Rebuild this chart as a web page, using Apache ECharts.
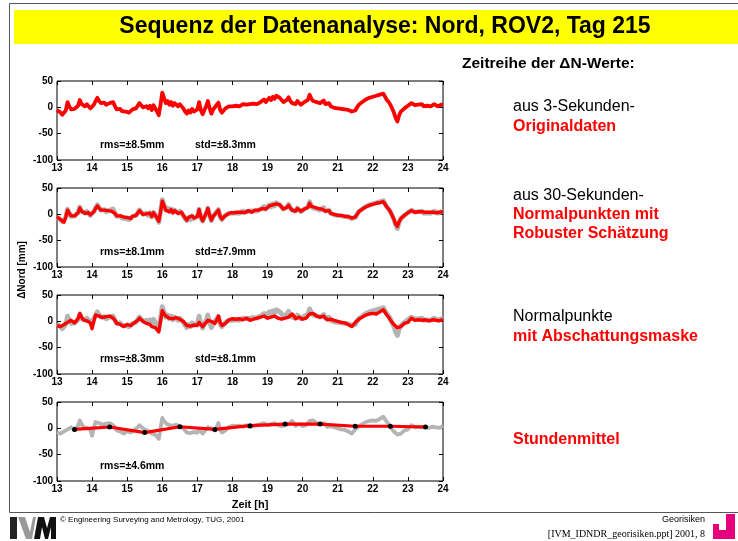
<!DOCTYPE html>
<html><head><meta charset="utf-8">
<script src="https://cdn.jsdelivr.net/npm/echarts@6/dist/echarts.min.js"></script>
<style>html,body{margin:0;padding:0;background:#fff}#c{width:738px;height:541px}</style>
</head><body><div id="c"></div>
<script>
// ---- DATA ----
const xTicks = [13,14,15,16,17,18,19,20,21,22,23,24];
const yTicks = [-100,-50,0,50];
// 3-second original data, sampled every 0.05 h (one array per hour)
const orig13 = [-5,-8,-10,-14,-17,-6,10,2,-4,-2,-3,0,3,14,6,8,2,6,3,-2];
const orig14 = [-3,5,12,18,12,8,6,9,5,7,8,6,10,2,-4,-5,-3,-7,-5,-8];
const orig15 = [-6,-10,-8,-4,-7,-2,0,8,4,0,-3,2,-2,3,-5,4,2,-8,-15,5];
const orig16 = [28,18,8,12,5,10,3,8,5,2,6,4,-2,-8,-12,-6,-10,-3,-8,-5];
const orig17 = [-4,10,-6,-13,-5,2,12,-2,-12,-4,0,5,9,-5,-10,-6,-2,0,2,3];
const orig18 = [2,4,3,5,2,4,6,3,5,8,6,4,7,9,6,8,10,12,15,10];
const orig19 = [12,18,14,20,16,22,25,18,20,10,8,14,19,12,8,10,6,12,15,5];
const orig20 = [8,10,12,14,24,16,12,14,10,12,8,10,13,6,5,8,2,3,-1,2];
const orig21 = [-2,0,-3,-1,-4,-2,-5,-3,-8,-10,-6,0,5,8,10,12,15,13,18,16];
const orig22 = [20,18,22,20,24,21,26,27,14,10,5,-2,-10,-20,-27,-15,-8,-5,-2,0];
const orig23 = [3,5,8,10,4,2,5,3,6,2,4,3,5,2,4,6,3,2,4,5];
const orig24 = [5];
// 30-second normal points, robust estimation, every 0.05 h
const rob13 = [-5,-8,-10,-13,-15,-5,8,2,-3,-2,-3,0,3,12,6,7,2,5,3,-1];
const rob14 = [-2,5,11,16,12,8,6,8,5,7,8,6,9,2,-3,-5,-3,-6,-5,-7];
const rob15 = [-6,-9,-8,-4,-6,-2,0,7,4,0,-3,1,-2,2,-4,3,1,-7,-13,4];
const rob16 = [25,17,8,11,5,9,3,7,5,2,5,4,-2,-7,-11,-6,-9,-3,-7,-5];
const rob17 = [-4,9,-5,-12,-5,2,11,-2,-11,-4,0,4,8,-4,-9,-5,-2,0,2,3];
const rob18 = [2,3,3,4,2,4,5,3,5,7,6,4,6,8,6,8,9,11,14,10];
const rob19 = [11,16,14,18,16,20,22,18,18,10,8,13,17,12,8,10,6,11,14,6];
const rob20 = [8,10,11,13,21,15,12,13,10,11,8,10,12,6,5,7,2,3,0,2];
const rob21 = [-2,0,-2,-1,-4,-2,-4,-3,-7,-9,-5,0,5,8,10,12,14,13,17,16];
const rob22 = [19,18,21,20,22,21,24,24,14,10,5,-2,-9,-18,-23,-14,-8,-5,-2,0];
const rob23 = [3,5,7,9,4,3,5,3,5,3,4,3,4,3,4,5,3,3,4,5];
const rob24 = [5];
// normal points with shadowing mask, every 0.05 h
const mask13 = [-8,-9,-10,-8,-6,-3,-2,0,2,1,-3,0,5,15,8,3,2,1,0,-3];
const mask14 = [-14,0,12,14,10,8,7,9,9,10,10,8,6,2,-4,-6,-6,-8,-10,-8];
const mask15 = [-6,-8,-8,-5,-3,0,2,6,4,0,-2,-4,-5,-6,-10,-8,-12,-14,-20,0];
const mask16 = [20,14,10,8,6,6,5,7,7,5,4,4,0,-4,-8,-8,-9,-6,-7,-6];
const mask17 = [-8,-2,-4,-10,-10,-2,2,0,0,-3,-4,2,10,-2,-8,-6,-4,-2,3,4];
const mask18 = [5,4,4,5,5,3,3,4,6,5,2,3,4,5,6,7,8,9,10,8];
const mask19 = [6,7,8,9,10,8,6,5,4,5,6,7,8,10,14,10,5,6,8,7];
const mask20 = [4,5,6,8,14,15,15,13,10,9,8,9,10,8,3,4,4,3,2,2];
const mask21 = [0,-1,-2,-2,-3,-4,-6,-7,-10,-9,-2,0,4,6,8,10,12,13,14,14];
const mask22 = [15,14,14,15,18,19,22,22,12,8,2,-2,-6,-9,-12,-11,-10,-7,-4,-3];
const mask23 = [-2,2,6,5,2,2,3,3,2,3,3,2,1,2,3,3,2,2,1,2];
const mask24 = [4];
// hourly means
const hourTimes = [13.5,14.5,15.5,16.5,17.5,18.5,19.5,20.5,21.5,22.5,23.5];
const hourMeans = [-2,2.5,-8,3,-2,5,8,8,4,4,2.5];
const statLabels = [["rms=\u00b18.5mm","std=\u00b18.3mm"],["rms=\u00b18.1mm","std=\u00b17.9mm"],["rms=\u00b18.3mm","std=\u00b18.1mm"],["rms=\u00b14.6mm",""]];

// ---- BUILD ----
const origAll = [].concat(orig13,orig14,orig15,orig16,orig17,orig18,orig19,orig20,orig21,orig22,orig23,orig24);
const robAll = [].concat(rob13,rob14,rob15,rob16,rob17,rob18,rob19,rob20,rob21,rob22,rob23,rob24);
const maskAll = [].concat(mask13,mask14,mask15,mask16,mask17,mask18,mask19,mask20,mask21,mask22,mask23,mask24);
const pairs = (vals, t0, dt) => vals.map((v,i)=>[+(t0+i*dt).toFixed(3), v]);
const origPts = pairs(origAll, 13, 0.05);
const robustPts = pairs(robAll, 13, 0.05);
const maskedPts = pairs(maskAll, 13, 0.05);
const meanPts = hourTimes.map((t,i)=>[t, hourMeans[i]]);

const tops = [81,188,295,402];
const gLeft = 57, gW = 386, gH = 79;
const RED = '#ff0000', GRAY = '#b4b4b4';
const lblFont = {fontFamily:'Liberation Sans, Arial', fontWeight:'bold', fontSize:10, color:'#000'};

const grid=[], xAxis=[], yAxis=[], series=[];
tops.forEach((t,i)=>{
  grid.push({left:gLeft, top:t, width:gW, height:gH, show:true, borderColor:'#000', borderWidth:1, backgroundColor:'#fff'});
  const xb = {type:'value', gridIndex:i, min:xTicks[0], max:xTicks[xTicks.length-1], interval:1,
    axisLine:{show:false, onZero:false}, splitLine:{show:false},
    axisTick:{show:true, inside:true, length:4, lineStyle:{color:'#000', width:1}},
    axisLabel:Object.assign({margin:3, showMinLabel:true, showMaxLabel:true}, lblFont)};
  xAxis.push(xb);
  xAxis.push(Object.assign({}, xb, {position:'top', axisLabel:{show:false}}));
  const yb = {type:'value', gridIndex:i, min:yTicks[0], max:yTicks[yTicks.length-1], interval:50,
    axisLine:{show:false, onZero:false}, splitLine:{show:false},
    axisTick:{show:true, inside:true, length:4, lineStyle:{color:'#000', width:1}},
    axisLabel:Object.assign({margin:4}, lblFont)};
  yAxis.push(yb);
  yAxis.push(Object.assign({}, yb, {position:'right', axisLabel:{show:false}}));
});
const line = (i, data, color, w, extra) => Object.assign({type:'line', xAxisIndex:2*i, yAxisIndex:2*i, data,
  showSymbol:false, symbol:'none', smooth:false, silent:true, animation:false, sampling:null,
  lineStyle:{color, width:w, join:'round'}}, extra||{});
series.push(line(0, origPts, RED, 3.8));
series.push(line(1, origPts, GRAY, 4.8));
series.push(line(1, robustPts, RED, 3.4));
series.push(line(2, origPts, GRAY, 4.8));
series.push(line(2, maskedPts, RED, 3.4));
series.push(line(3, maskedPts, GRAY, 3.8));
series.push(line(3, meanPts, RED, 3.2, {showSymbol:true, symbol:'circle', symbolSize:5, itemStyle:{color:'#000', borderWidth:0}}));

const F = '"Liberation Sans", Arial';
const graphic = [
  {type:'rect', shape:{x:9.5,y:3.5,width:740,height:509}, style:{fill:'none', stroke:'#555', lineWidth:1}, z:-1},
  {type:'rect', shape:{x:14,y:10,width:724,height:34}, style:{fill:'#ffff00'}},
  {type:'text', style:{text:'Sequenz der Datenanalyse: Nord, ROV2, Tag 215', x:385, y:27, textAlign:'center', textVerticalAlign:'middle', font:'bold 23px '+F, fill:'#000'}},
  {type:'text', style:{text:'Zeitreihe der \u0394N-Werte:', x:462, y:64, textVerticalAlign:'middle', font:'bold 15.5px '+F, fill:'#000'}},
  {type:'text', style:{text:'aus 3-Sekunden-', x:513, y:107, textVerticalAlign:'middle', font:'16px '+F, fill:'#000'}},
  {type:'text', style:{text:'Originaldaten', x:513, y:127, textVerticalAlign:'middle', font:'bold 16px '+F, fill:'#ff0000'}},
  {type:'text', style:{text:'aus 30-Sekunden-', x:513, y:196, textVerticalAlign:'middle', font:'16px '+F, fill:'#000'}},
  {type:'text', style:{text:'Normalpunkten mit', x:513, y:215, textVerticalAlign:'middle', font:'bold 16px '+F, fill:'#ff0000'}},
  {type:'text', style:{text:'Robuster Sch\u00e4tzung', x:513, y:234, textVerticalAlign:'middle', font:'bold 16px '+F, fill:'#ff0000'}},
  {type:'text', style:{text:'Normalpunkte', x:513, y:317, textVerticalAlign:'middle', font:'16px '+F, fill:'#000'}},
  {type:'text', style:{text:'mit Abschattungsmaske', x:513, y:337, textVerticalAlign:'middle', font:'bold 16px '+F, fill:'#ff0000'}},
  {type:'text', style:{text:'Stundenmittel', x:513, y:440, textVerticalAlign:'middle', font:'bold 16px '+F, fill:'#ff0000'}},
  {type:'text', style:{text:'Zeit [h]', x:250, y:505, textAlign:'center', textVerticalAlign:'middle', font:'bold 11px '+F, fill:'#000'}},
  {type:'text', rotation:Math.PI/2, x:22, y:270, style:{text:'\u0394Nord [mm]', x:0, y:0, textAlign:'center', textVerticalAlign:'middle', font:'bold 10px '+F, fill:'#000'}},
  // footer
  {type:'text', style:{text:'\u00a9 Engineering Surveying and Metrology, TUG, 2001', x:60, y:520, textVerticalAlign:'middle', font:'8px '+F, fill:'#000'}},
  {type:'text', style:{text:'Georisiken', x:705, y:520, textAlign:'right', textVerticalAlign:'middle', font:'9px '+F, fill:'#000'}},
  {type:'text', style:{text:'[IVM_IDNDR_georisiken.ppt] 2001, 8', x:705, y:534, textAlign:'right', textVerticalAlign:'middle', font:'10px "Liberation Serif", "Times New Roman"', fill:'#000'}},
  // IVM logo
  {type:'rect', shape:{x:10,y:517,width:7,height:22}, style:{fill:'#222'}},
  {type:'polygon', shape:{points:[[18,517],[25,517],[30,532],[33,517],[36,517],[32,539],[26,539]]}, style:{fill:'#999'}},
  {type:'polygon', shape:{points:[[34,539],[38,517],[44,517],[47,528],[50,517],[56,517],[56,539],[51,539],[51,527],[48,539],[45,539],[42,527],[40,539]]}, style:{fill:'#111'}},
  // pink logo
  {type:'polygon', shape:{points:[[726,514],[735,514],[735,539],[713,539],[713,524],[719,524],[719,530],[726,530]]}, style:{fill:'#e6007e'}}
];
tops.forEach((t,i)=>{
  graphic.push({type:'text', style:{text:statLabels[i][0], x:100, y:t+64, textVerticalAlign:'middle', font:'bold 10.5px '+F, fill:'#000'}});
  if (statLabels[i][1]) graphic.push({type:'text', style:{text:statLabels[i][1], x:195, y:t+64, textVerticalAlign:'middle', font:'bold 10.5px '+F, fill:'#000'}});
});

const chart = echarts.init(document.getElementById('c'), null, {renderer:'canvas'});
chart.setOption({backgroundColor:'#fff', animation:false, grid, xAxis, yAxis, series, graphic});
</script></body></html>
